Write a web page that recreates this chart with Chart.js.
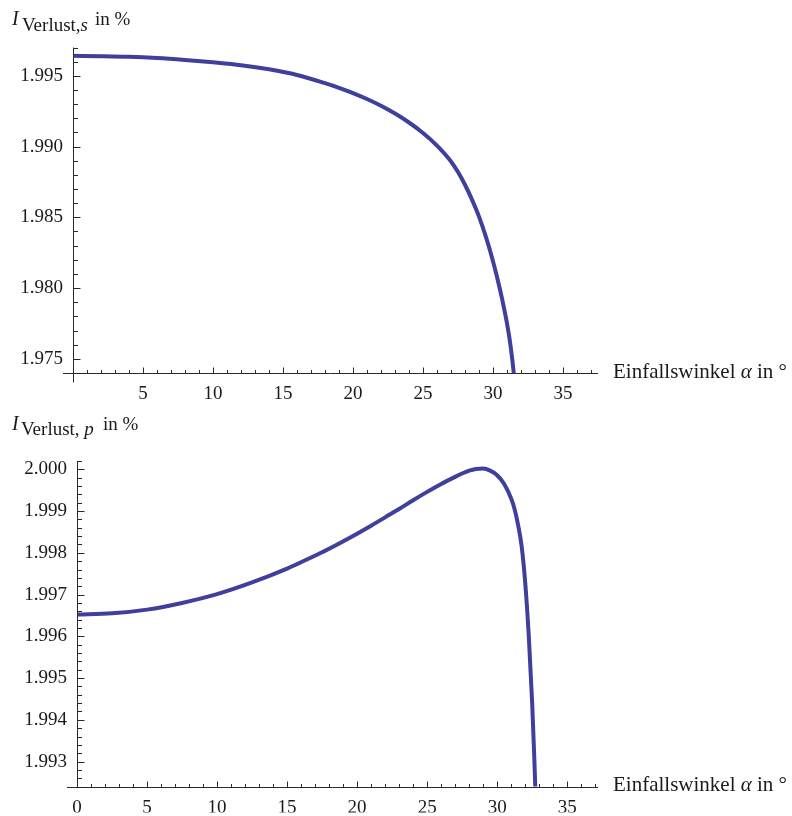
<!DOCTYPE html>
<html>
<head>
<meta charset="utf-8">
<script src="https://cdn.jsdelivr.net/npm/chart.js@4.4.1/dist/chart.umd.min.js"></script>
<style>
  body { margin: 0; background: #fff; width: 792px; height: 816px; position: relative; overflow: hidden;
         font-family: "Liberation Serif", "Times New Roman", serif; color: #1a1a1a; }
  .plot { position: absolute; left: 0; }
  .plot canvas { display: block; }
  .lbl { position: absolute; white-space: nowrap; line-height: 1; font-size: 19px; }
  .xlbl { font-size: 21px; }
</style>
</head>
<body>
<div class="plot" style="top:0"><canvas id="chartS" width="792" height="410"></canvas></div>
<div class="plot" style="top:410px"><canvas id="chartP" width="792" height="406"></canvas></div>

<!-- Achsentitel -->
<span class="lbl" style="left:12px; top:8px; font-size:20px"><i>I</i></span>
<span class="lbl" style="left:22px; top:15px">Verlust,<i>s</i></span>
<span class="lbl" style="left:95px; top:9px">in %</span>
<span class="lbl xlbl" style="left:613px; top:360.5px">Einfallswinkel <i>α</i> in °</span>

<span class="lbl" style="left:12px; top:413px; font-size:20px"><i>I</i></span>
<span class="lbl" style="left:21px; top:419px">Verlust, <i>p</i></span>
<span class="lbl" style="left:103px; top:414px">in %</span>
<span class="lbl xlbl" style="left:613px; top:774px">Einfallswinkel <i>α</i> in °</span>

<script>
// s-polarisiert: Einfallswinkel (Grad) und Verlust (%)
const winkelS  = [0, 2, 4, 6, 8, 10, 12, 14, 16, 18, 19, 20, 21, 22, 23, 24, 25, 26, 27, 27.5,
                  28, 28.5, 29, 29.5, 30, 30.5, 31, 31.25, 31.5, 31.6];
const verlustS = [1.99641, 1.99639, 1.99635, 1.99626, 1.99612, 1.99595, 1.99575, 1.99546, 1.99506,
                  1.99448, 1.99415, 1.99378, 1.99336, 1.99288, 1.99233, 1.99170, 1.99096, 1.99007,
                  1.98895, 1.98820, 1.98730, 1.98625, 1.98505, 1.98360, 1.98190, 1.97990, 1.97750,
                  1.97595, 1.97380, 1.97241];

// p-polarisiert
const winkelP  = [0, 2.5, 5, 7.5, 10, 12.5, 15, 16.6, 18, 20, 21, 22, 23, 24, 25, 26, 27, 27.5,
                  28, 28.5, 29, 29.5, 30, 30.5, 31, 31.25, 31.5, 31.75, 32, 32.25, 32.5, 32.65, 32.8];
const verlustP = [1.99652, 1.99655, 1.99664, 1.99680, 1.99701, 1.99729, 1.99762, 1.99787, 1.99810,
                  1.99846, 1.99865, 1.99885, 1.99905, 1.99926, 1.99946, 1.99965, 1.99982, 1.99990,
                  1.99997, 2.00001, 2.00002, 1.99997, 1.99986, 1.99965, 1.99930, 1.99904, 1.99866,
                  1.99815, 1.99730, 1.99605, 1.99440, 1.99310, 1.99160];

// Tick-Beschriftungen
const xTicksS = [5, 10, 15, 20, 25, 30, 35];
const yTicksS = [1.975, 1.980, 1.985, 1.990, 1.995];
const xTicksP = [0, 5, 10, 15, 20, 25, 30, 35];
const yTicksP = [1.993, 1.994, 1.995, 1.996, 1.997, 1.998, 1.999, 2.000];

const LINE = '#3f3f9c';
const AXIS = '#2a2a2a';

// Achsen im Mathematica-Stil: Linien mit Haupt- und Nebenstrichen nach innen
const mmaAxes = {
  id: 'mmaAxes',
  afterDraw(chart, args, o) {
    const { ctx, scales: { x, y } } = chart;
    const x0 = Math.round(x.getPixelForValue(0)) + 0.5;
    const yb = Math.round(y.getPixelForValue(y.min)) + 0.5;
    ctx.save();
    ctx.strokeStyle = AXIS;
    ctx.lineWidth = 1;
    const seg = (a, b, c, d) => { ctx.beginPath(); ctx.moveTo(a, b); ctx.lineTo(c, d); ctx.stroke(); };
    seg(x.left - o.xExt, yb, x.right, yb);
    seg(x0, y.top, x0, yb + o.yExt);
    for (let k = Math.ceil(x.min); k <= x.max; k++) {
      const px = Math.round(x.getPixelForValue(k)) + 0.5;
      seg(px, yb, px, yb - (k % 5 === 0 ? 6 : 3.5));
    }
    const k0 = Math.ceil(y.min / o.yStep - 1e-6), k1 = Math.floor(y.max / o.yStep + 1e-6);
    for (let k = k0; k <= k1; k++) {
      const py = Math.round(y.getPixelForValue(k * o.yStep)) + 0.5;
      seg(x0, py, x0 + (k % o.yMajor === 0 ? 7 : 4.5), py);
    }
    ctx.restore();
  }
};

function makeChart(id, wx, wy, xt, yt, cfg) {
  return new Chart(document.getElementById(id), {
    type: 'line',
    data: {
      datasets: [{
        data: wx.map((v, i) => ({ x: v, y: wy[i] })),
        borderColor: LINE,
        borderWidth: 4,
        pointRadius: 0,
        cubicInterpolationMode: 'monotone',
        fill: false
      }]
    },
    options: {
      responsive: false,
      animation: false,
      events: [],
      layout: { padding: { left: 0, right: 194, top: cfg.top, bottom: cfg.bottom } },
      plugins: { legend: { display: false }, tooltip: { enabled: false },
                 mmaAxes: { xExt: cfg.xExt, yExt: cfg.yExt, yStep: cfg.yStep, yMajor: cfg.yMajor } },
      scales: {
        x: {
          type: 'linear', min: cfg.xMin, max: cfg.xMax,
          grid: { display: false, drawTicks: false }, border: { display: false },
          afterBuildTicks: s => { s.ticks = xt.map(v => ({ value: v })); },
          afterFit: s => { s.height = 26; },
          ticks: { padding: 10, color: '#1a1a1a', maxRotation: 0, autoSkip: false,
                   font: { family: 'Liberation Serif', size: 19 } }
        },
        y: {
          type: 'linear', min: cfg.yMin, max: cfg.yMax,
          grid: { display: false, drawTicks: false }, border: { display: false },
          afterBuildTicks: s => { s.ticks = yt.map(v => ({ value: v })); },
          afterFit: s => { s.width = cfg.left; },
          ticks: { padding: 10, color: '#1a1a1a', autoSkip: false,
                   callback: v => v.toFixed(3),
                   font: { family: 'Liberation Serif', size: 19 } }
        }
      }
    },
    plugins: [mmaAxes]
  });
}

makeChart('chartS', winkelS, verlustS, xTicksS, yTicksS,
  { left: 73, top: 47.5, bottom: 11, xMin: 0, xMax: 37.5, yMin: 1.974, yMax: 1.997,
    xExt: 10, yExt: 9, yStep: 0.001, yMajor: 5 });

makeChart('chartP', winkelP, verlustP, xTicksP, yTicksP,
  { left: 77, top: 51, bottom: 3.4, xMin: 0, xMax: 37.2, yMin: 1.9924, yMax: 2.0002,
    xExt: 10, yExt: 0, yStep: 0.0002, yMajor: 5 });
</script>
</body>
</html>
